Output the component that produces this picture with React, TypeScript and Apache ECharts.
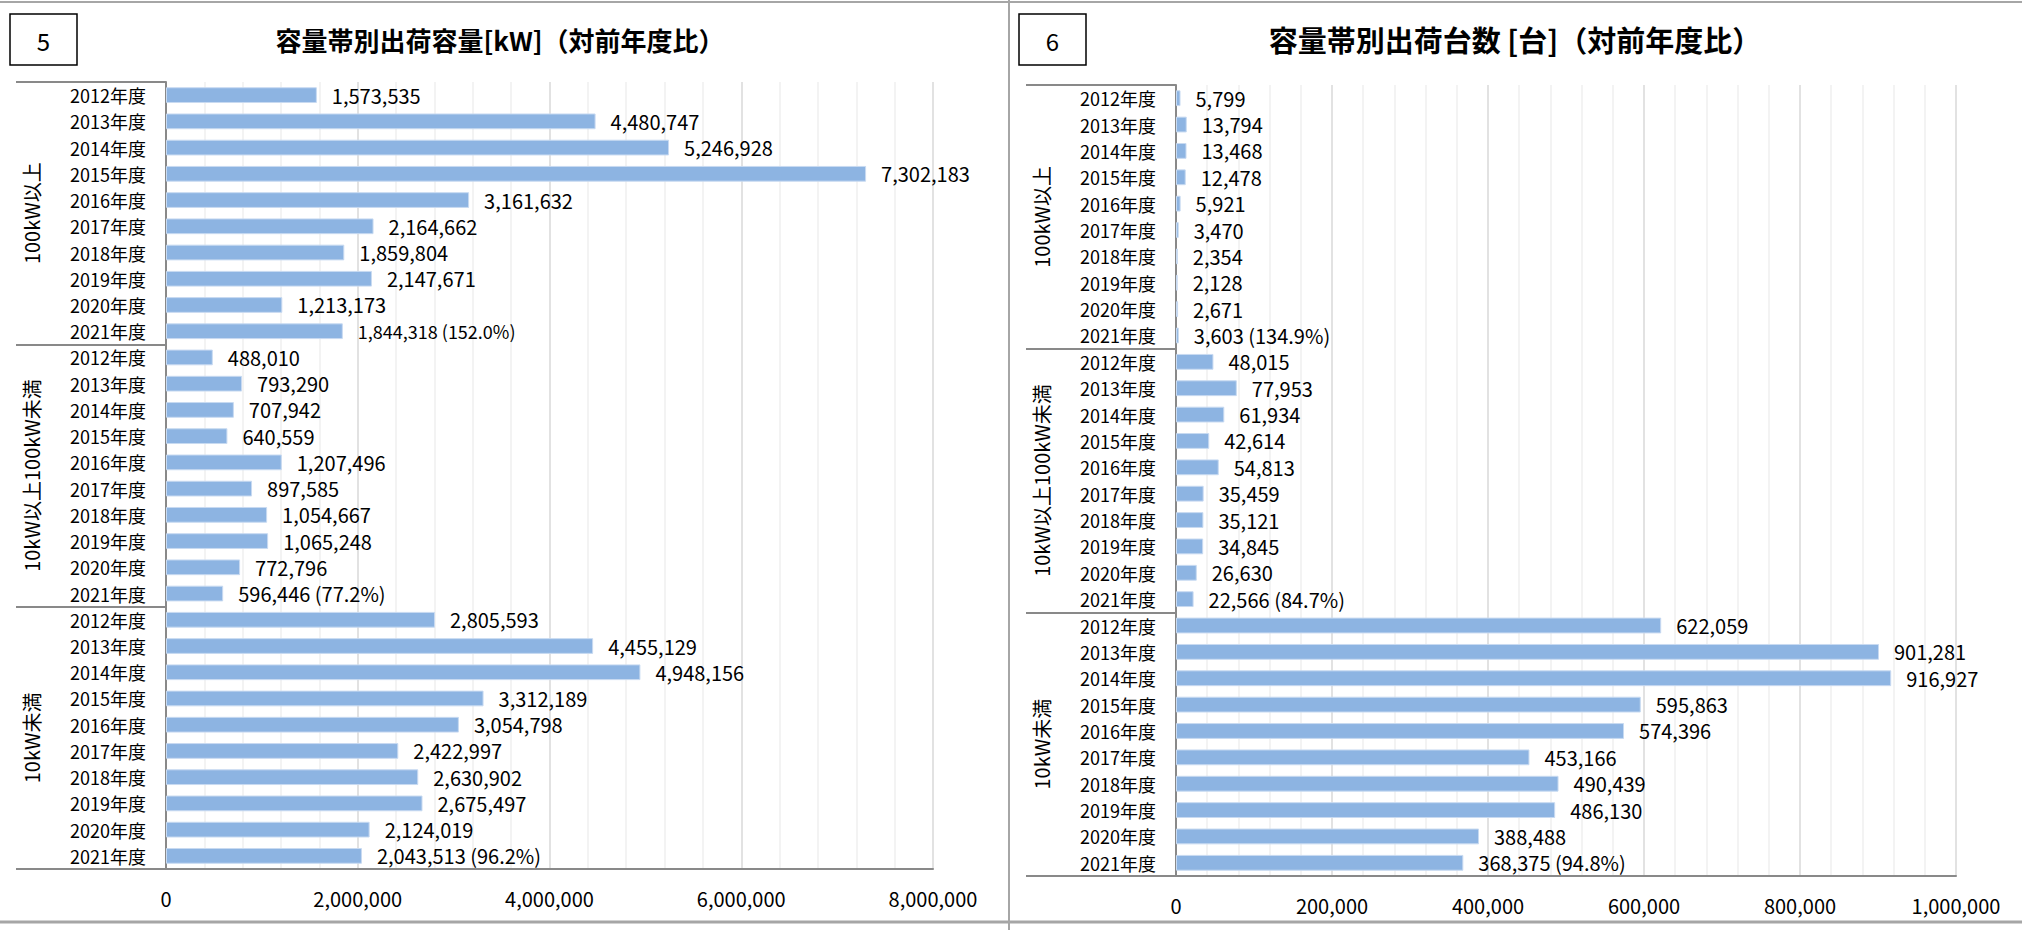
import React, { useEffect, useRef } from "react";
import * as echarts from "echarts";

const FONT = '"Noto Sans CJK JP", "Noto Sans", sans-serif';

const years = ["2012年度", "2013年度", "2014年度", "2015年度", "2016年度", "2017年度", "2018年度", "2019年度", "2020年度", "2021年度"];
const groups = ["100kW以上", "10kW以上100kW未満", "10kW未満"];

// 容量帯別出荷容量 [kW]
const kwOver100 = [1573535, 4480747, 5246928, 7302183, 3161632, 2164662, 1859804, 2147671, 1213173, 1844318];
const kw10to100 = [488010, 793290, 707942, 640559, 1207496, 897585, 1054667, 1065248, 772796, 596446];
const kwUnder10 = [2805593, 4455129, 4948156, 3312189, 3054798, 2422997, 2630902, 2675497, 2124019, 2043513];
const kwRatios = [152.0, 77.2, 96.2];

// 容量帯別出荷台数 [台]
const unitsOver100 = [5799, 13794, 13468, 12478, 5921, 3470, 2354, 2128, 2671, 3603];
const units10to100 = [48015, 77953, 61934, 42614, 54813, 35459, 35121, 34845, 26630, 22566];
const unitsUnder10 = [622059, 901281, 916927, 595863, 574396, 453166, 490439, 486130, 388488, 368375];
const unitsRatios = [134.9, 84.7, 94.8];

const kwAxisMax = 8000000;
const kwAxisStep = 2000000;
const unitsAxisMax = 1000000;
const unitsAxisStep = 200000;

const categories = groups.flatMap(() => years);
const fmt = (v: number) => v.toLocaleString("en-US");

function buildPanel(
  g: number,
  values: number[],
  ratios: number[],
  max: number,
  step: number,
  smallLabelIdx: number[]
) {
  const data = values.map((v, i) =>
    smallLabelIdx.includes(i) ? { value: v, label: { fontSize: 18 } } : { value: v }
  );
  const xAxis = {
    type: "value",
    gridIndex: g,
    min: 0,
    max,
    interval: step,
    position: "bottom",
    axisLine: { show: true, onZero: false, lineStyle: { color: "#898989", width: 2 } },
    axisTick: { show: false },
    axisLabel: { fontSize: 20, color: "#000", margin: 19, fontFamily: FONT, formatter: (v: number) => fmt(v) },
    splitLine: { show: true, lineStyle: { color: "#D9D9D9", width: 1.5 } },
    minorTick: { show: false, splitNumber: 5 },
    minorSplitLine: { show: true, lineStyle: { color: "#EFEFEF", width: 1.5 } },
  };
  const yAxes = [
    {
      type: "category",
      gridIndex: g,
      data: categories,
      inverse: true,
      position: "left",
      axisLine: { show: true, onZero: false, lineStyle: { color: "#898989", width: 2 } },
      axisTick: { show: false },
      axisLabel: { interval: 0, fontSize: 18, color: "#000", margin: 20, fontFamily: FONT },
      splitLine: { show: false },
    },
    {
      type: "category",
      gridIndex: g,
      data: groups,
      inverse: true,
      position: "left",
      axisLine: { show: false, onZero: false },
      axisTick: { show: true, interval: 0, length: 150, lineStyle: { color: "#898989", width: 2 } },
      axisLabel: { interval: 0, rotate: 90, margin: 125, fontSize: 20, color: "#000", fontFamily: FONT },
      splitLine: { show: false },
    },
  ];
  const series = {
    type: "bar",
    xAxisIndex: g,
    yAxisIndex: g * 2,
    data,
    barCategoryGap: "40%",
    itemStyle: { color: "#8DB4E2", borderColor: "#C8DAF1", borderWidth: 1 },
    label: {
      show: true,
      position: "right",
      distance: 15,
      fontSize: 20,
      color: "#000",
      fontFamily: FONT,
      formatter: (p: any) => {
        const i = p.dataIndex;
        const base = fmt(p.value);
        if (i % 10 === 9) {
          return `${base} (${ratios[Math.floor(i / 10)].toFixed(1)}%)`;
        }
        return base;
      },
    },
  };
  return { xAxis, yAxes, series };
}

export default function App() {
  const ref = useRef<HTMLDivElement>(null);
  useEffect(() => {
    if (!ref.current) return;
    const chart = echarts.init(ref.current, undefined, { renderer: "svg" });
    const left = buildPanel(0, [...kwOver100, ...kw10to100, ...kwUnder10], kwRatios, kwAxisMax, kwAxisStep, [9]);
    const right = buildPanel(1, [...unitsOver100, ...units10to100, ...unitsUnder10], unitsRatios, unitsAxisMax, unitsAxisStep, []);
    const border = "#A6A6A6";
    chart.setOption({
      animation: false,
      backgroundColor: "#fff",
      textStyle: { fontFamily: FONT },
      grid: [
        { left: 166, top: 82, width: 767, height: 787 },
        { left: 1176, top: 85, width: 780, height: 791 },
      ],
      xAxis: [left.xAxis, right.xAxis],
      yAxis: [...left.yAxes, ...right.yAxes],
      series: [left.series, right.series],
      graphic: [
        { type: "line", shape: { x1: 0, y1: 2, x2: 2022, y2: 2 }, style: { stroke: border, lineWidth: 2 } },
        { type: "line", shape: { x1: 0, y1: 922, x2: 2022, y2: 922 }, style: { stroke: border, lineWidth: 3 } },
        { type: "line", shape: { x1: 1009, y1: 0, x2: 1009, y2: 930 }, style: { stroke: border, lineWidth: 2 } },
        { type: "rect", shape: { x: 10, y: 14, width: 67, height: 51 }, style: { fill: "#fff", stroke: "#000", lineWidth: 1.5 } },
        { type: "text", x: 43.5, y: 40, style: { text: "5", font: `24px ${FONT}`, fill: "#000", textAlign: "center", textVerticalAlign: "middle" } },
        { type: "rect", shape: { x: 1019, y: 14, width: 67, height: 51 }, style: { fill: "#fff", stroke: "#000", lineWidth: 1.5 } },
        { type: "text", x: 1052.5, y: 40, style: { text: "6", font: `24px ${FONT}`, fill: "#000", textAlign: "center", textVerticalAlign: "middle" } },
        { type: "text", x: 500, y: 39, style: { text: "容量帯別出荷容量[kW]（対前年度比）", font: `bold 26px ${FONT}`, fill: "#000", textAlign: "center", textVerticalAlign: "middle" } },
        { type: "text", x: 1515, y: 39, style: { text: "容量帯別出荷台数 [台]（対前年度比）", font: `bold 29px ${FONT}`, fill: "#000", textAlign: "center", textVerticalAlign: "middle" } },
      ],
    });
    return () => chart.dispose();
  }, []);
  return (
    <div
      ref={ref}
      style={{ position: "fixed", left: 0, top: 0, width: 2022, height: 930, background: "#fff" }}
    />
  );
}
